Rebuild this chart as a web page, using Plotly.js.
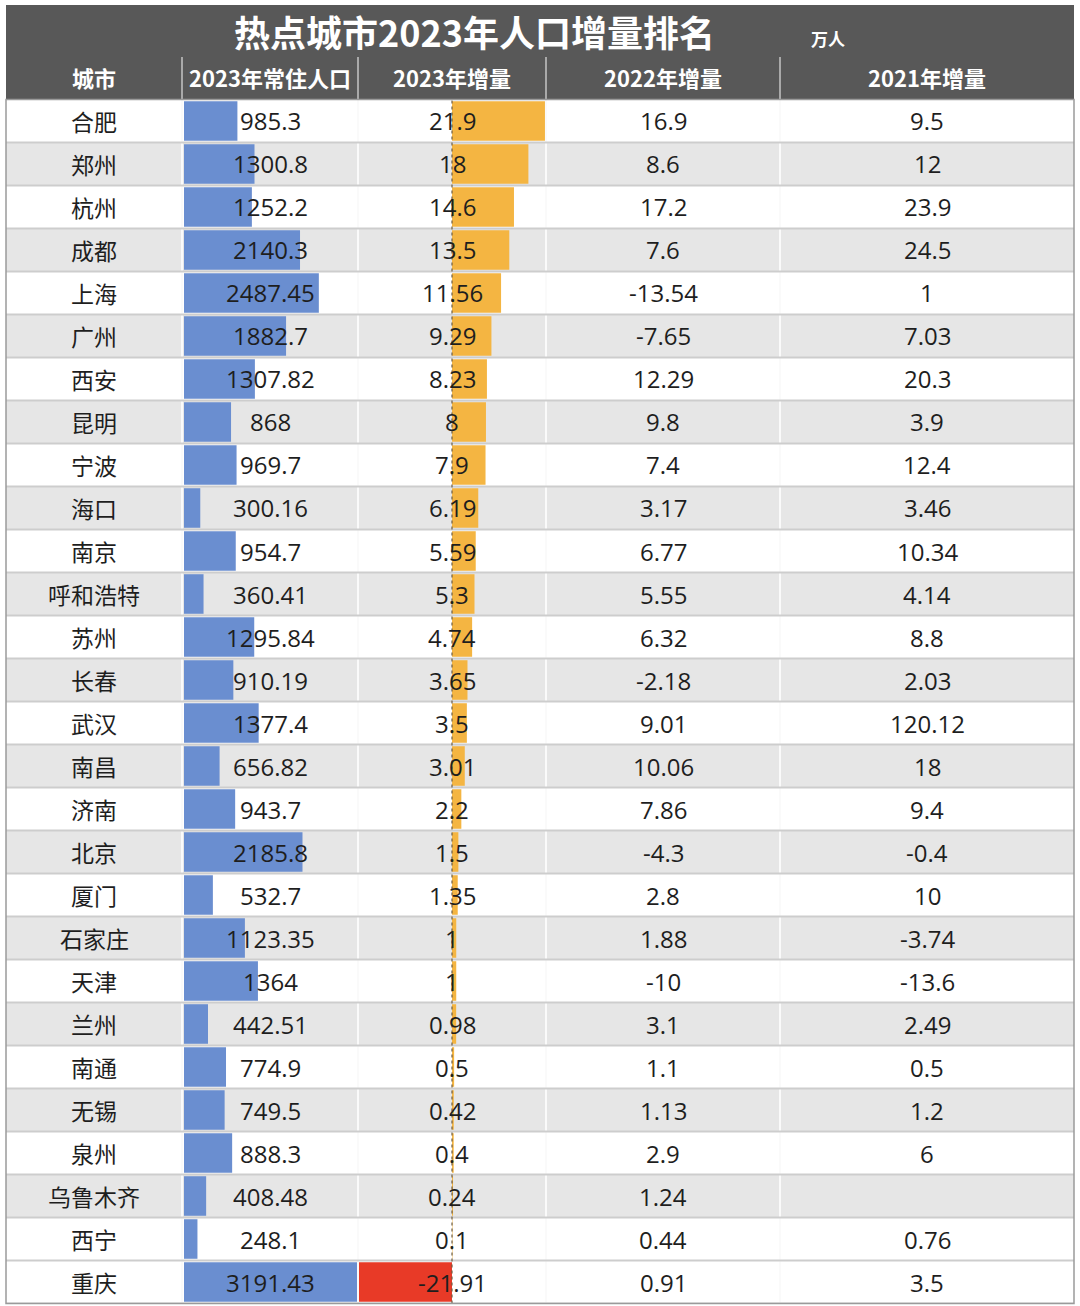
<!DOCTYPE html>
<html>
<head>
<meta charset="utf-8">
<script src="https://cdn.plot.ly/plotly-3.0.1.min.js"></script>
<style>html,body{margin:0;padding:0;background:#fff;}#chart{width:1080px;height:1306px;}</style>
</head>
<body>
<div id="chart"></div>
<script>
// ---- data ----
const cities = ["合肥","郑州","杭州","成都","上海","广州","西安","昆明","宁波","海口","南京","呼和浩特","苏州","长春","武汉","南昌","济南","北京","厦门","石家庄","天津","兰州","南通","无锡","泉州","乌鲁木齐","西宁","重庆"];
const pop2023 = [985.3,1300.8,1252.2,2140.3,2487.45,1882.7,1307.82,868,969.7,300.16,954.7,360.41,1295.84,910.19,1377.4,656.82,943.7,2185.8,532.7,1123.35,1364,442.51,774.9,749.5,888.3,408.48,248.1,3191.43];
const inc2023 = [21.9,18,14.6,13.5,11.56,9.29,8.23,8,7.9,6.19,5.59,5.3,4.74,3.65,3.5,3.01,2.2,1.5,1.35,1,1,0.98,0.5,0.42,0.4,0.24,0.1,-21.91];
const inc2022 = [16.9,8.6,17.2,7.6,-13.54,-7.65,12.29,9.8,7.4,3.17,6.77,5.55,6.32,-2.18,9.01,10.06,7.86,-4.3,2.8,1.88,-10,3.1,1.1,1.13,2.9,1.24,0.44,0.91];
const inc2021 = [9.5,12,23.9,24.5,1,7.03,20.3,3.9,12.4,3.46,10.34,4.14,8.8,2.03,120.12,18,9.4,-0.4,10,-3.74,-13.6,2.49,0.5,1.2,6,null,0.76,3.5];
const headers = ["城市","2023年常住人口","2023年增量","2022年增量","2021年增量"];
const titleText = "热点城市2023年人口增量排名";
const unitText = "万人";

// ---- layout helpers ----
const W = 1080, H = 1306;
const fx = px => px / W;
const fy = py => 1 - py / H;
const colEdges = [6, 182, 358, 546, 780, 1074];
const colCenters = colEdges.slice(0, -1).map((e, i) => (e + colEdges[i + 1]) / 2);
const headTop = 5, headerTop = 57, rowsTop = 99.5, rowsBottom = 1303.5;
const n = cities.length;

const BLUE = "#6a8ed0", ORANGE = "#f4b542", RED = "#e83a27", GRAY = "#e6e6e6";
const FONT = "Open Sans, Noto Sans CJK SC, sans-serif";
const CJK = "Noto Sans CJK SC, sans-serif";

const traces = [
  {type: "bar", orientation: "h", x: pop2023, y: cities, xaxis: "x", yaxis: "y",
   marker: {color: BLUE}, hoverinfo: "skip", showlegend: false},
  {type: "bar", orientation: "h", x: inc2023, y: cities, xaxis: "x2", yaxis: "y",
   marker: {color: inc2023.map(v => v < 0 ? RED : ORANGE)}, hoverinfo: "skip", showlegend: false}
];

const shapes = [];
shapes.push({type: "rect", xref: "paper", yref: "paper", x0: fx(colEdges[0]), x1: fx(colEdges[5]),
  y0: fy(rowsTop), y1: fy(headTop), fillcolor: "#585858", line: {width: 0}, layer: "below"});
cities.forEach((c, i) => {
  const shaded = (i % 2 === 1) && i < n - 1;
  shapes.push({type: "rect", xref: "paper", yref: "y", x0: fx(colEdges[0]), x1: fx(colEdges[5]),
    y0: i - 0.5, y1: i + 0.5, fillcolor: shaded ? GRAY : "#ffffff", line: {width: 0}, layer: "below"});
});
colEdges.slice(1, -1).forEach(e => {
  shapes.push({type: "line", xref: "paper", yref: "paper", x0: fx(e), x1: fx(e),
    y0: fy(rowsBottom), y1: fy(rowsTop), line: {color: "#fafafa", width: 2}, layer: "below"});
  shapes.push({type: "line", xref: "paper", yref: "paper", x0: fx(e), x1: fx(e),
    y0: fy(rowsTop), y1: fy(headerTop), line: {color: "#c4c4c4", width: 1.5}, layer: "below"});
});
for (let i = 0; i < n; i++) {
  shapes.push({type: "line", xref: "paper", yref: "y", x0: fx(colEdges[0]), x1: fx(colEdges[5]),
    y0: i + 0.5, y1: i + 0.5, line: {color: "#cdcdcd", width: 2}, layer: "below"});
}
shapes.push({type: "line", xref: "x2", yref: "paper", x0: 0, x1: 0, y0: fy(rowsBottom), y1: fy(rowsTop),
  line: {color: "#6e5e44", width: 1.2, dash: "dot"}, layer: "above"});
shapes.push({type: "rect", xref: "paper", yref: "paper", x0: fx(colEdges[0]), x1: fx(colEdges[5]),
  y0: fy(rowsBottom), y1: fy(rowsTop), fillcolor: "rgba(0,0,0,0)", line: {color: "#9a9a9a", width: 1.5}, layer: "above"});

const annotations = [];
annotations.push({xref: "paper", yref: "paper", x: fx(474), y: fy(31), text: "<b>" + titleText + "</b>",
  showarrow: false, xanchor: "center", yanchor: "middle", font: {family: CJK, size: 36, color: "#ffffff"}});
annotations.push({xref: "paper", yref: "paper", x: fx(828), y: fy(38), text: "<b>" + unitText + "</b>",
  showarrow: false, xanchor: "center", yanchor: "middle", font: {family: CJK, size: 17, color: "#ffffff"}});
headers.forEach((h, j) => {
  annotations.push({xref: "paper", yref: "paper", x: fx(colCenters[j]), y: fy(77), text: "<b>" + h + "</b>",
    showarrow: false, xanchor: "center", yanchor: "middle", font: {family: CJK, size: 22, color: "#ffffff"}});
});
const cols = [cities, pop2023, inc2023, inc2022, inc2021];
cols.forEach((col, j) => {
  col.forEach((v, i) => {
    if (v === null || v === undefined) return;
    annotations.push({xref: "paper", yref: "y", x: fx(colCenters[j]), y: cities[i], text: String(v),
      showarrow: false, xanchor: "center", yanchor: "middle",
      font: {family: j === 0 ? CJK : FONT, size: j === 0 ? 23 : 24, color: "#1e1e1e"}});
  });
});

const layout = {
  width: W, height: H, margin: {l: 0, r: 0, t: 0, b: 0},
  paper_bgcolor: "#ffffff", plot_bgcolor: "rgba(0,0,0,0)",
  showlegend: false, bargap: 0.08,
  yaxis: {type: "category", categoryorder: "array", categoryarray: cities, range: [n - 0.5, -0.5],
    domain: [fy(rowsBottom), fy(rowsTop)], visible: false, fixedrange: true},
  xaxis: {domain: [fx(184), fx(357)], range: [0, 3191.43], visible: false, anchor: "y"},
  xaxis2: {domain: [fx(359), fx(545)], range: [-21.91, 21.91], visible: false, anchor: "y"},
  shapes: shapes, annotations: annotations
};

Plotly.newPlot("chart", traces, layout, {staticPlot: true, displayModeBar: false});
</script>
</body>
</html>
